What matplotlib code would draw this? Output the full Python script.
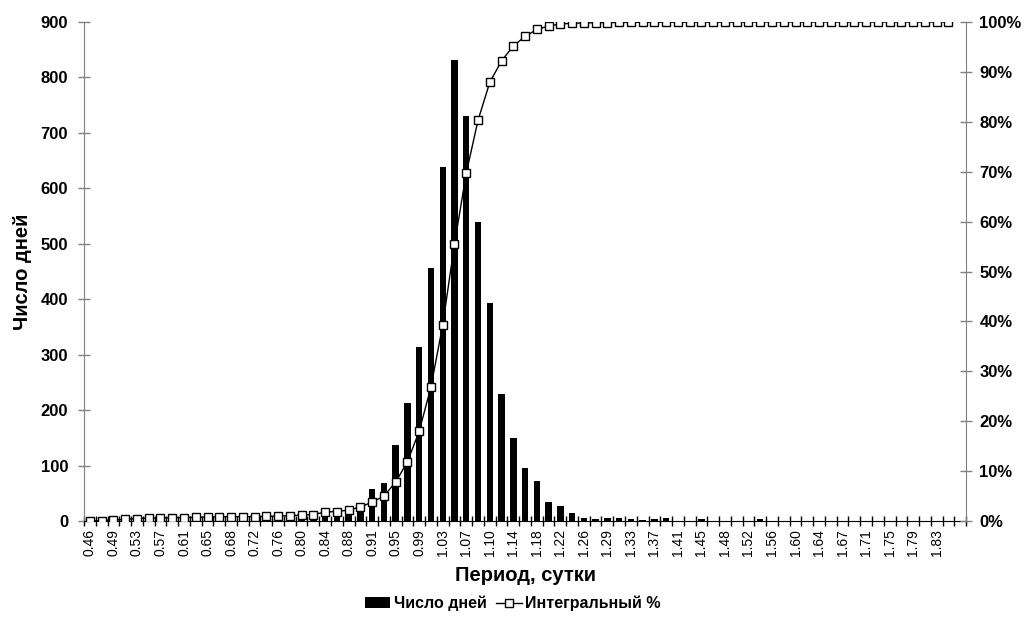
import matplotlib.pyplot as plt
import numpy as np
from matplotlib.ticker import FixedLocator, PercentFormatter

plt.rcParams['font.family'] = ['Liberation Sans', 'DejaVu Sans']

# visible x labels (every other category), 75 categories in all
shown_labels = ['0.46', '0.49', '0.53', '0.57', '0.61', '0.65', '0.68', '0.72',
                '0.76', '0.80', '0.84', '0.88', '0.91', '0.95', '0.99', '1.03',
                '1.07', '1.10', '1.14', '1.18', '1.22', '1.26', '1.29', '1.33',
                '1.37', '1.41', '1.45', '1.48', '1.52', '1.56', '1.60', '1.64',
                '1.67', '1.71', '1.75', '1.79', '1.83']

# number of days per bin
days = [0, 2, 3, 6, 7, 3, 3, 3, 3, 3, 3, 2, 1, 1, 2, 3, 3, 4, 6, 5,
        10, 12, 18, 30, 58, 68, 138, 213, 314, 457, 638, 832, 731, 539, 394, 229,
        149, 95, 72, 34, 27, 15, 5, 3, 5, 6, 3, 2, 3, 5,
        0, 0, 3, 0, 0, 0, 0, 3, 0, 0, 0, 0, 0, 0, 0, 0, 0, 0, 0, 0,
        0, 0, 0, 0, 0]

# cumulative percent (no value for the last bin)
cum_pct = [0.0, 0.1, 0.2, 0.35, 0.5, 0.55, 0.6, 0.65, 0.7, 0.75, 0.8, 0.85,
           0.87, 0.87, 0.9, 0.95, 1.0, 1.07, 1.2, 1.3, 1.8, 1.9, 2.2, 2.8,
           3.8, 5.0, 7.8, 11.9, 18.0, 26.9, 39.3, 55.5, 69.7, 80.3, 87.9, 92.2,
           95.2, 97.1, 98.5, 99.2, 99.6, 99.75, 99.8, 99.85, 99.88, 99.9, 99.92, 99.94,
           99.96, 99.97, 99.97, 99.97, 99.98, 99.98, 99.98, 99.98, 99.98, 100, 100, 100,
           100, 100, 100, 100, 100, 100, 100, 100, 100, 100, 100, 100, 100, 100]

x = np.arange(len(days))

fig = plt.figure(figsize=(10.25, 6.32), dpi=100)
ax = fig.add_axes([0.082, 0.1756, 0.8605, 0.7896])
ax2 = ax.twinx()

bars = ax.bar(x, days, width=0.55, color='black', label='Число дней', zorder=2)
line, = ax2.plot(np.arange(len(cum_pct)), np.array(cum_pct) / 100, color='black', lw=1,
                 marker='s', markersize=5.5, markerfacecolor='white',
                 markeredgecolor='black', markeredgewidth=1, label='Интегральный %')

ax.set_xlim(-0.5, len(days) - 0.5)
ax.set_ylim(0, 900)
ax.set_yticks(range(0, 901, 100))
ax2.set_ylim(0, 1)
ax2.set_yticks(np.arange(0, 1.01, 0.1))
ax2.yaxis.set_major_formatter(PercentFormatter(1.0, decimals=0))

ax.set_xticks(x[::2][:len(shown_labels)])
ax.set_xticklabels(shown_labels, rotation=90, fontsize=10)
ax.xaxis.set_minor_locator(FixedLocator(np.arange(-0.5, len(days), 1)))
ax.tick_params(axis='x', which='major', length=0, pad=6)
ax.tick_params(axis='x', which='minor', direction='inout', length=7, width=1)

for a, p in ((ax, 7), (ax2, 5)):
    a.spines['top'].set_visible(False)
    a.tick_params(axis='y', direction='inout', length=9, width=1, color='#808080',
                  labelsize=12, pad=p)
    for lbl in a.get_yticklabels():
        lbl.set_fontweight('bold')
ax2.spines['left'].set_visible(False)
ax2.spines['bottom'].set_visible(False)
ax.spines['right'].set_visible(False)
ax.spines['left'].set_color('#808080')
ax2.spines['right'].set_color('#808080')
ax.spines['bottom'].set_color('black')
ax.spines['bottom'].set_zorder(3)

ax.set_ylabel('Число дней', fontsize=14.5, fontweight='bold', labelpad=6)
ax.set_xlabel('Период, сутки', fontsize=14.5, fontweight='bold', labelpad=7)

fig.legend(handles=[bars, line], loc='lower center', bbox_to_anchor=(0.5, 0.01),
           ncol=2, frameon=False, prop={'weight': 'bold', 'size': 11.5},
           handlelength=1.6, handletextpad=0.2, columnspacing=0.6)

fig.savefig('out.png', dpi=100)
